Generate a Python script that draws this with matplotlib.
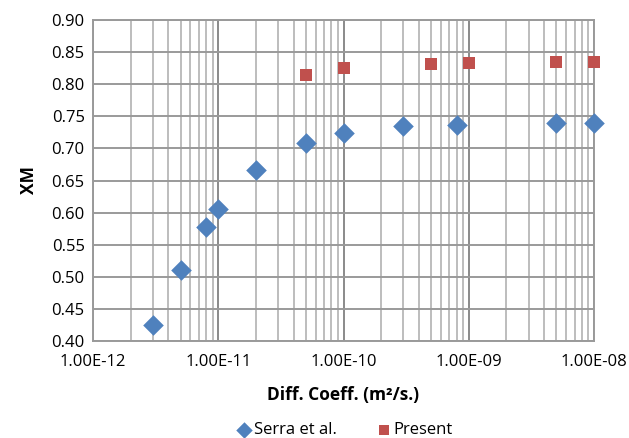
import matplotlib
matplotlib.use("Agg")
import matplotlib.pyplot as plt
from matplotlib.ticker import LogLocator, FixedLocator, NullFormatter
import numpy as np

serra_d = [3e-12, 5e-12, 8e-12, 1e-11, 2e-11, 5e-11, 1e-10, 3e-10, 8e-10, 5e-9, 1e-8]
serra_xm = [0.425, 0.510, 0.578, 0.605, 0.666, 0.708, 0.724, 0.735, 0.737, 0.739, 0.739]
present_d = [5e-11, 1e-10, 5e-10, 1e-9, 5e-9, 1e-8]
present_xm = [0.815, 0.825, 0.832, 0.833, 0.834, 0.834]

x_ticks = [1e-12, 1e-11, 1e-10, 1e-9, 1e-8]
x_labels = ["1.00E-12", "1.00E-11", "1.00E-10", "1.00E-09", "1.00E-08"]
y_ticks = np.arange(0.40, 0.901, 0.05)

plt.rcParams['font.family'] = ['Open Sans', 'DejaVu Sans']

fig = plt.figure(figsize=(6.29, 4.38), dpi=100)
ax = fig.add_axes([93 / 629, 1 - 341 / 438, 501 / 629, 321 / 438])

ax.set_xscale('log')
ax.set_xlim(1e-12, 1e-8)
ax.set_ylim(0.40, 0.90)

ax.xaxis.set_major_locator(FixedLocator(x_ticks))
ax.set_xticklabels(x_labels)
ax.xaxis.set_minor_locator(LogLocator(base=10, subs=np.arange(2, 10)))
ax.xaxis.set_minor_formatter(NullFormatter())
ax.set_yticks(y_ticks)
ax.set_yticklabels([f"{v:.2f}" for v in y_ticks])

ax.grid(which='major', axis='x', color='#8a8a8a', lw=1.4)
ax.grid(which='minor', axis='x', color='#bdbdbd', lw=1.4)
ax.grid(which='major', axis='y', color='#9a9a9a', lw=1.4)
ax.tick_params(which='both', length=0, labelsize=12, colors='black', pad=6)
ax.tick_params(axis='x', pad=9)
for s in ax.spines.values():
    s.set_color('#9a9a9a')
    s.set_linewidth(1.4)
ax.set_axisbelow(True)

ax.scatter(serra_d, serra_xm, marker='D', s=110, color='#4f81bd', label='Serra et al.',
           zorder=3, linewidths=0, clip_on=False)
ax.scatter(present_d, present_xm, marker='s', s=70, color='#c0504d', label='Present',
           zorder=3, linewidths=0, clip_on=False)

ax.set_xlabel("Diff. Coeff. (m²/s.)", fontsize=12.5, fontweight='bold', labelpad=12)
ax.set_ylabel("XM", fontsize=12.5, fontweight='bold', labelpad=10)

ax.legend(loc='center', bbox_to_anchor=(0.5, -0.278), ncol=2, frameon=False,
          fontsize=12, handletextpad=0.0, columnspacing=2.2, borderaxespad=0,
          borderpad=0, markerscale=0.8, handlelength=1.2)

fig.savefig("out.png", dpi=100)
